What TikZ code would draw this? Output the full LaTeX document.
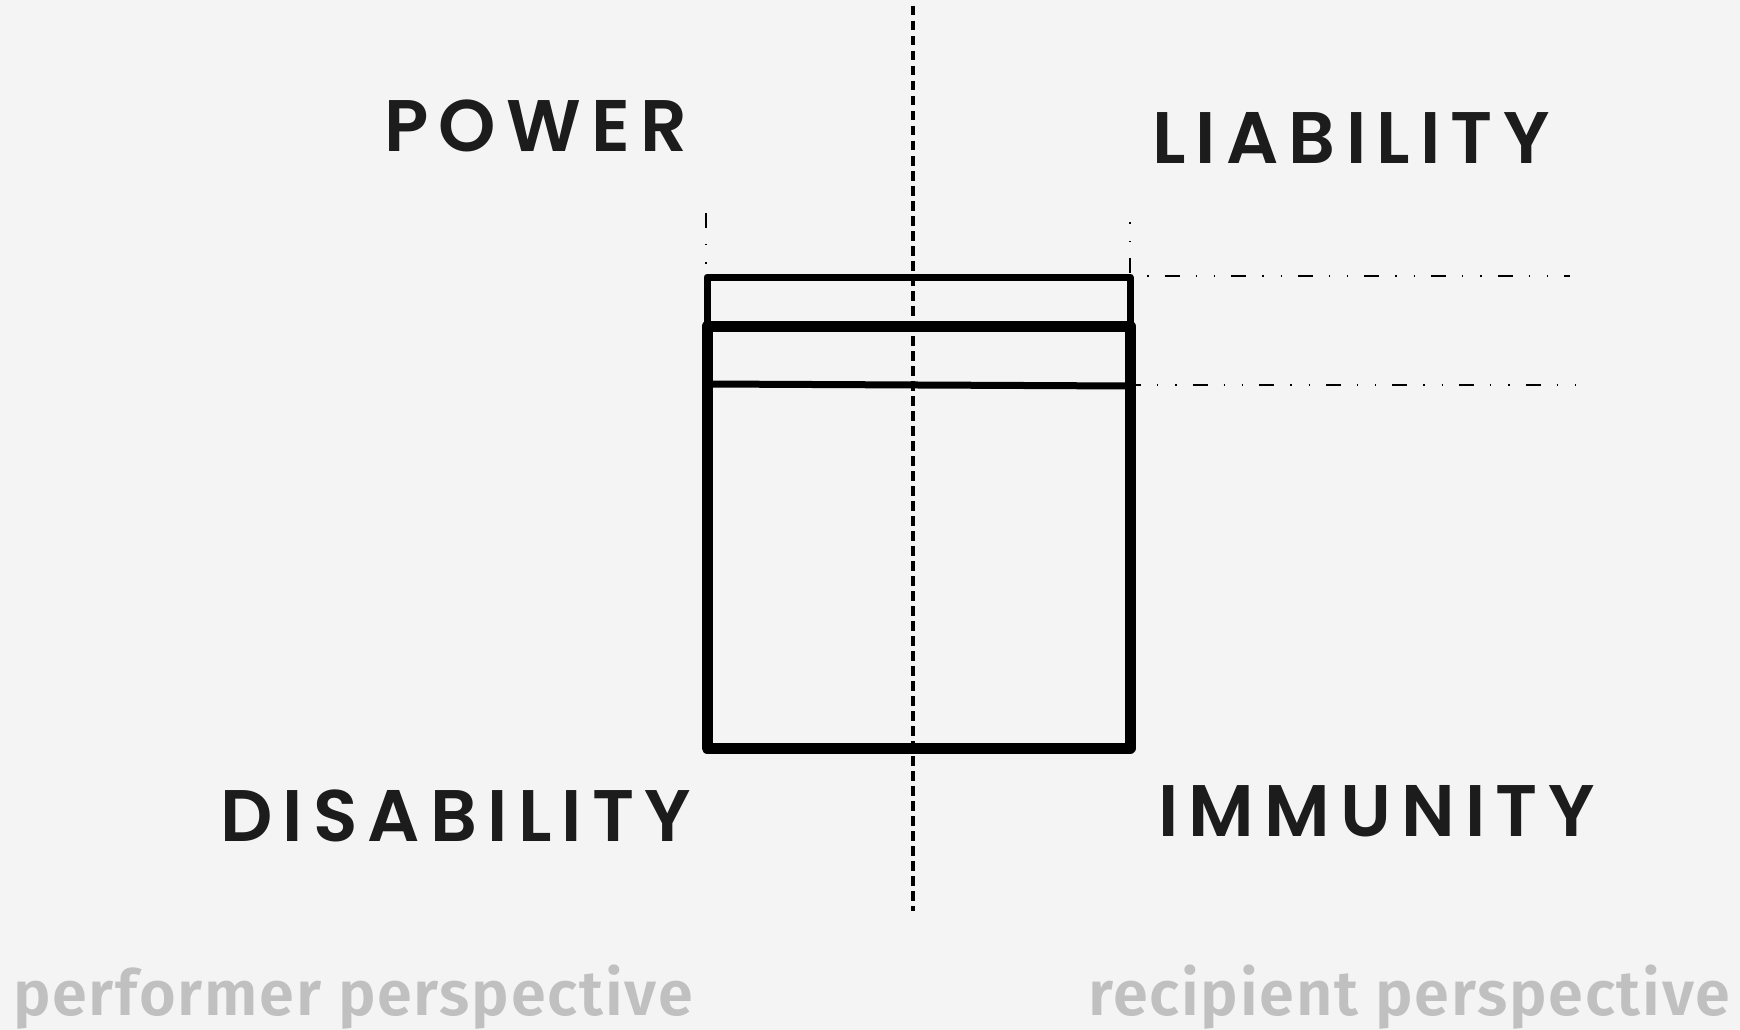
\documentclass[tikz,border=0pt]{standalone}
\usepackage{fontspec}
\newfontfamily\labfont[LetterSpace=14]{Poppins SemiBold}
\newfontfamily\perfont[LetterSpace=2.8]{Fira Sans SemiBold}
\definecolor{bg}{HTML}{F4F4F4}
\definecolor{ink}{HTML}{1C1C1C}
\definecolor{soft}{HTML}{C0C0C0}
\begin{document}
\begin{tikzpicture}[x=1pt,y=-1pt,
  lab/.style={anchor=base west,inner sep=0pt,text=ink,font=\labfont\fontsize{73}{80}\selectfont},
  persp/.style={anchor=base west,inner sep=0pt,text=soft,font=\perfont\fontsize{63}{70}\selectfont},
  dashdot/.style={line width=1.3pt,dash pattern=on 15pt off 16pt on 1.3pt off 17pt on 1.3pt off 16pt},
  boxline/.style={line width=#1,line join=round,line cap=round}]
\fill[bg] (0,0) rectangle (1740,1030);
\useasboundingbox (0,0) rectangle (1740,1030);
% corners
\coordinate (tl) at (707,277);
\coordinate (tr) at (1130,277);
\coordinate (ml) at (707,326);
\coordinate (mr) at (1130,326);
\coordinate (il) at (707,384);
\coordinate (ir) at (1130,386);
\coordinate (bl) at (707,748);
\coordinate (br) at (1130,748);
% thin upper rectangle
\draw[boxline=7pt] (ml) -- (tl) -- (tr) -- (mr);
% thick main rectangle
\draw[boxline=11pt] (ml) -- (mr) -- (br) -- (bl) -- cycle;
\draw[line width=7pt] (il) -- (ir);
% axis
\coordinate (axt) at (913,6);
\coordinate (axb) at (913,911);
\draw[line width=4.5pt,dash pattern=on 9.5pt off 5.5pt] (axt) -- (axb);
% dash-dot guides
\coordinate (g1a) at (1135,276);
\coordinate (g1b) at (1570,276);
\coordinate (g2a) at (1135,385);
\coordinate (g2b) at (1590,385);
\coordinate (v1a) at (706,213);
\coordinate (v1b) at (706,274);
\coordinate (v2a) at (1130,273);
\coordinate (v2b) at (1130,220);
\draw[dashdot,dash phase=37pt] (g1a) -- (g1b);
\draw[dashdot,dash phase=9pt] (g2a) -- (g2b);
\draw[dashdot] (v1a) -- (v1b);
\draw[dashdot] (v2a) -- (v2b);
% labels
\node[lab] (power) at (384,152) {POWER};
\node[lab] (liab) at (1152,164) {LIABILITY};
\node[lab] (disab) at (220,841) {DISABILITY};
\node[lab] (immun) at (1158,836) {IMMUNITY};
\node[persp] (perf) at (13,1015) {performer perspective};
\node[persp] (reci) at (1088,1015) {recipient perspective};
\end{tikzpicture}
\end{document}
